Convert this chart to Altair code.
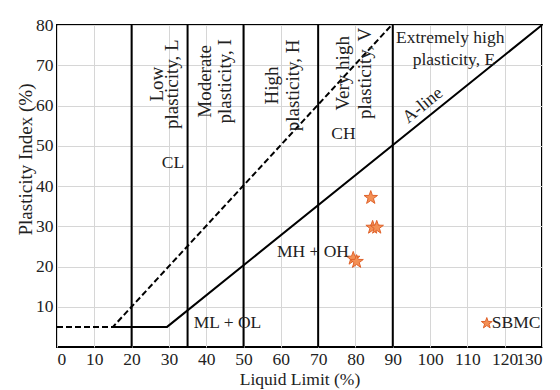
import altair as alt
import pandas as pd

FONT = "Liberation Serif, Times New Roman, serif"

# Zone boundaries (Liquid Limit)
boundaries = [20, 35, 50, 70, 90]

# A-line vertices
a_ll = [15, 29.5, 130]
a_pi = [5, 5, 80]

# U-line (dashed) vertices
u_ll = [0, 15, 89.7]
u_pi = [5, 5, 80]

# Sample points (SBMC)
pts_ll = [84.1, 84.6, 85.7, 79.4, 80.3]
pts_pi = [37.1, 29.7, 29.7, 22.0, 21.2]

# Legend-like marker
leg_ll = [115.2]
leg_pi = [5.9]
leg_label = ["SBMC"]

# Group labels
grp_text = ["CL", "CH", "MH + OH", "ML + OL"]
grp_ll = [31.1, 76.8, 68.6, 45.7]
grp_pi = [45.6, 53.0, 23.6, 5.9]

# Vertical zone labels (one row per text line)
zone_text = ["Low", "plasticity, L", "Moderate", "plasticity, I",
             "High", "plasticity, H", "Very high", "plasticity, V"]
zone_ll = [26.7, 30.8, 39.7, 45.0, 57.6, 63.3, 76.7, 82.6]
zone_pi = [65.3, 65.3, 66.0, 66.0, 65.0, 65.0, 68.0, 68.0]

ext_text = ["Extremely high", "plasticity, E"]
ext_ll = [105.4, 106.4]
ext_pi = [76.8, 71.2]

aline_text = ["A-line"]
aline_ll = [98.1]
aline_pi = [60.0]

STAR = ("M0,-1L0.2351,-0.3236L0.9511,-0.309L0.3804,0.1236L0.5878,0.809L0,0.4"
        "L-0.5878,0.809L-0.3804,0.1236L-0.9511,-0.309L-0.2351,-0.3236Z")

HS = 17.5   # horizontal text size
VS = 19     # rotated text size


def X(f):
    return alt.X(f, type="quantitative",
                 scale=alt.Scale(domain=[0, 130], nice=False, zero=False),
                 axis=alt.Axis(values=list(range(0, 131, 10)), title="Liquid Limit (%)",
                               grid=True, ticks=False, domain=False, labelOverlap=False,
                               labelPadding=3, labelFontSize=HS, titleFontSize=HS,
                               titleY=32, titleBaseline="middle"))


def Y(f):
    return alt.Y(f, type="quantitative",
                 scale=alt.Scale(domain=[0, 80], nice=False, zero=False),
                 axis=alt.Axis(values=list(range(10, 81, 10)), title="Plasticity Index (%)",
                               grid=True, ticks=False, domain=False, labelOverlap=False,
                               labelPadding=4, labelFontSize=HS, titleFontSize=VS,
                               titleX=-32, titleY=134, titleBaseline="middle",
                               titleAlign="center", titleAngle=270))


df_b = pd.DataFrame({"ll": boundaries})
rules = alt.Chart(df_b).mark_rule(color="black", strokeWidth=2).encode(x=X("ll"))

df_a = pd.DataFrame({"ll": a_ll, "pi": a_pi, "o": list(range(len(a_ll)))})
aline = alt.Chart(df_a).mark_line(color="black", strokeWidth=2).encode(
    x=X("ll"), y=Y("pi"), order=alt.Order("o", type="quantitative"))

df_u = pd.DataFrame({"ll": u_ll, "pi": u_pi, "o": list(range(len(u_ll)))})
uline = alt.Chart(df_u).mark_line(color="black", strokeWidth=2, strokeDash=[6, 3]).encode(
    x=X("ll"), y=Y("pi"), order=alt.Order("o", type="quantitative"))

df_p = pd.DataFrame({"ll": pts_ll, "pi": pts_pi})
stars = alt.Chart(df_p).mark_point(shape=STAR, filled=True, size=200, fill="#F39055",
                                   stroke="#E0622A", strokeWidth=1, opacity=1).encode(
    x=X("ll"), y=Y("pi"))

df_l = pd.DataFrame({"ll": leg_ll, "pi": leg_pi, "t": leg_label})
leg_star = alt.Chart(df_l).mark_point(shape=STAR, filled=True, size=130, fill="#F39055",
                                      stroke="#E0622A", strokeWidth=1, opacity=1).encode(
    x=X("ll"), y=Y("pi"))
leg_txt = alt.Chart(df_l).mark_text(font=FONT, fontSize=HS, align="left", baseline="middle",
                                    dx=5, color="#222222").encode(
    x=X("ll"), y=Y("pi"), text=alt.Text("t", type="nominal"))

df_g = pd.DataFrame({"ll": grp_ll, "pi": grp_pi, "t": grp_text})
grp = alt.Chart(df_g).mark_text(font=FONT, fontSize=HS, align="center", baseline="middle",
                                color="#222222").encode(
    x=X("ll"), y=Y("pi"), text=alt.Text("t", type="nominal"))

df_z = pd.DataFrame({"ll": zone_ll, "pi": zone_pi, "t": zone_text})
zones = alt.Chart(df_z).mark_text(font=FONT, fontSize=VS, align="center", baseline="middle",
                                  angle=270, color="#222222").encode(
    x=X("ll"), y=Y("pi"), text=alt.Text("t", type="nominal"))

df_e = pd.DataFrame({"ll": ext_ll, "pi": ext_pi, "t": ext_text})
ext = alt.Chart(df_e).mark_text(font=FONT, fontSize=HS, align="center", baseline="middle",
                                color="#222222").encode(
    x=X("ll"), y=Y("pi"), text=alt.Text("t", type="nominal"))

df_al = pd.DataFrame({"ll": aline_ll, "pi": aline_pi, "t": aline_text})
al = alt.Chart(df_al).mark_text(font=FONT, fontSize=18, align="center", baseline="middle",
                                angle=321, color="#222222").encode(
    x=X("ll"), y=Y("pi"), text=alt.Text("t", type="nominal"))

chart = alt.layer(rules, uline, aline, stars, leg_star, leg_txt, grp, zones, ext, al).properties(
    width=485, height=322,
    autosize=alt.AutoSizeParams(type="none"),
    padding={"left": 57, "top": 25, "right": 18, "bottom": 43},
    background="white",
).configure_view(stroke="black", strokeWidth=2).configure_axis(
    labelFont=FONT, titleFont=FONT,
    labelColor="#222222", titleColor="#222222", titleFontWeight="normal",
    gridColor="#d6d6d6", gridWidth=1,
)

chart.save("out.html", embed_options={"renderer": "svg", "actions": False})
